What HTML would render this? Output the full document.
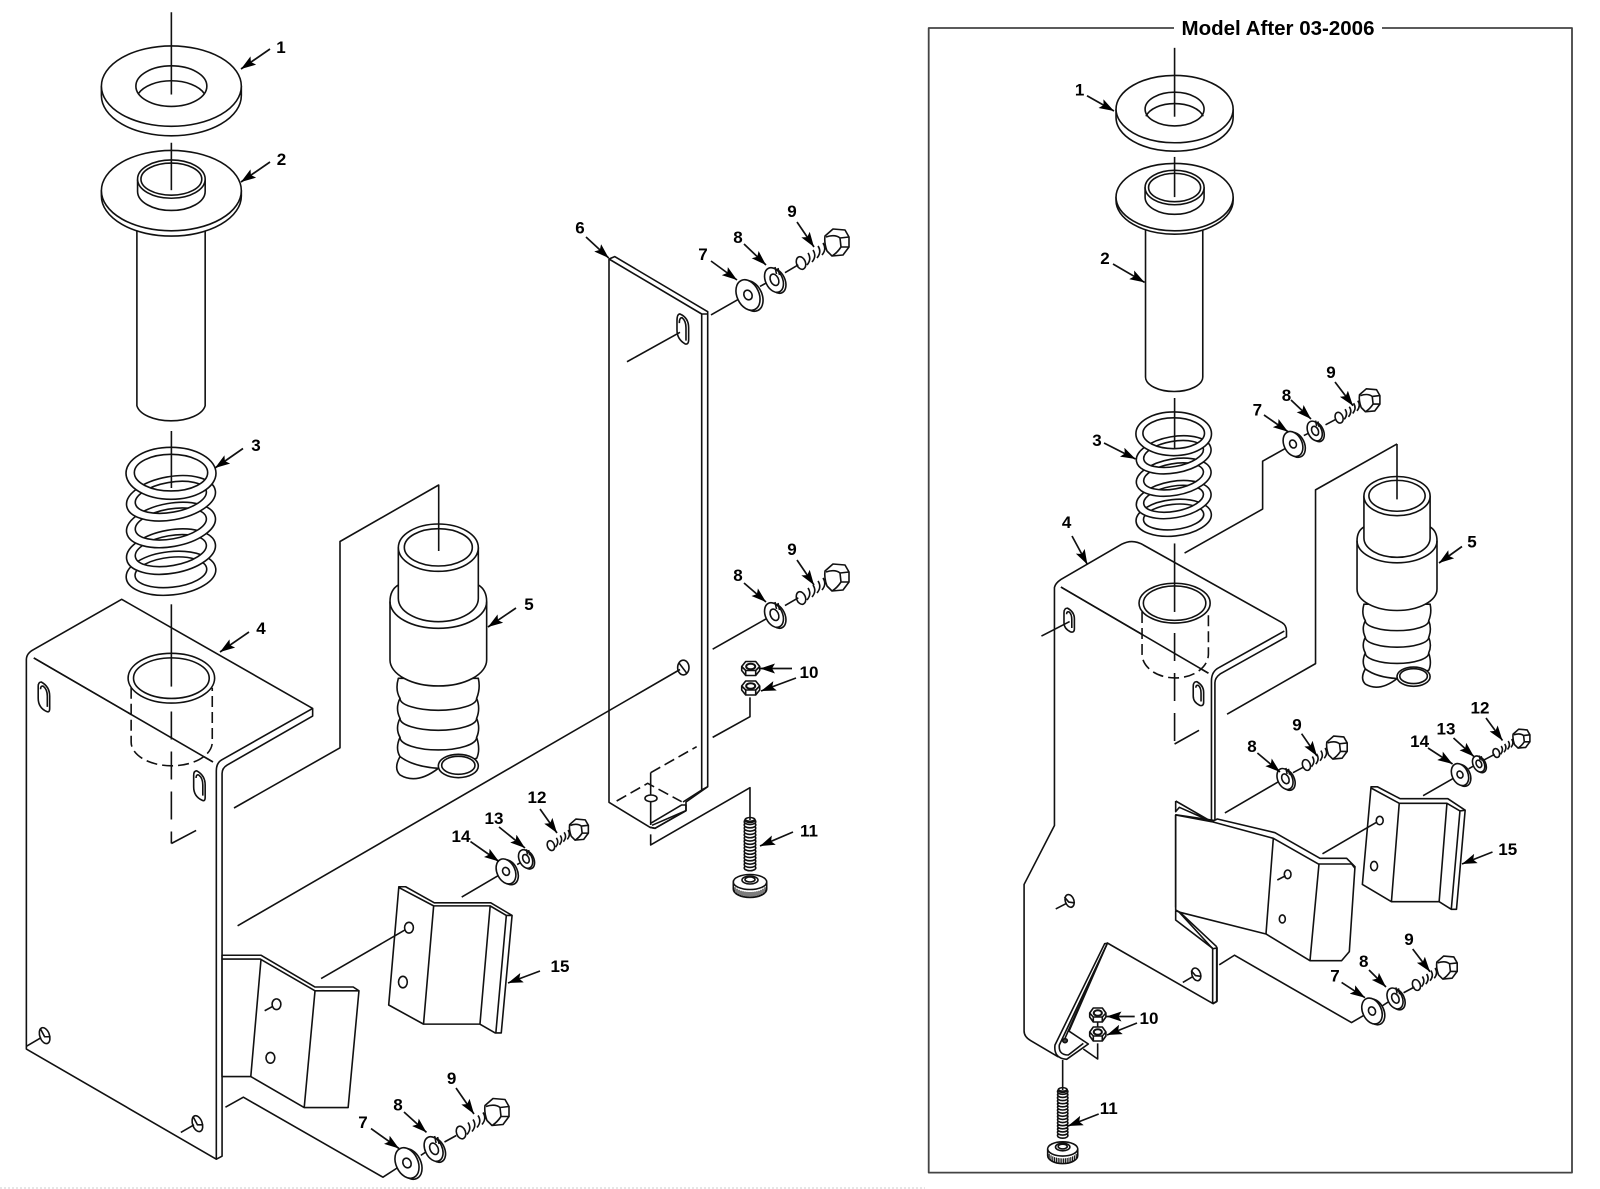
<!DOCTYPE html>
<html><head><meta charset="utf-8"><style>
html,body{margin:0;padding:0;background:#fff;width:1600px;height:1189px;overflow:hidden}
svg{display:block}
.d *,defs *{vector-effect:non-scaling-stroke}
.d{fill:none;stroke:#111;stroke-width:1.6;stroke-linejoin:round}
.w{fill:#fff}
.dash{stroke-dasharray:11 5}
.ar path{marker-end:url(#a);stroke-width:1.7}
text{font-family:"Liberation Sans",sans-serif;font-weight:bold;fill:#000;stroke:none;font-size:17px;text-anchor:middle}
</style></head><body>
<svg width="1600" height="1189" viewBox="0 0 1600 1189" xmlns="http://www.w3.org/2000/svg">
<defs>
<marker id="a" markerUnits="userSpaceOnUse" viewBox="0 0 15 10" markerWidth="15" markerHeight="10" refX="15" refY="5" orient="auto"><path d="M0,0L15,5L0,10L3,5Z" fill="#000" stroke="none"/></marker>
<path id="ring" class="w" fill-rule="evenodd" d="M-135,0a135,65 0 1,0 270,0a135,65 0 1,0 -270,0ZM-108,-3a108,45 0 1,0 216,0a108,45 0 1,0 -216,0Z"/>
<g id="spring">
<use href="#ring" transform="translate(0 300) rotate(-6)"/>
<use href="#ring" transform="translate(0 235) rotate(-10)"/>
<use href="#ring" transform="translate(0 155) rotate(-10)"/>
<use href="#ring" transform="translate(0 75) rotate(-10)"/>
<path class="w" fill-rule="evenodd" d="M-135,0a135,78 0 1,0 270,0a135,78 0 1,0 -270,0ZM-110,-2a110,55 0 1,0 220,0a110,55 0 1,0 -220,0Z"/>
</g>
<g id="washer">
<ellipse class="w" cx="3" cy="1" rx="11" ry="16" transform="rotate(-25 3 1)"/>
<ellipse class="w" cx="0" cy="0" rx="11" ry="16" transform="rotate(-25)"/>
<ellipse cx="0" cy="0" rx="4" ry="5" transform="rotate(-25)"/>
</g>
<g id="lock">
<ellipse class="w" cx="2.500" cy="1" rx="8.500" ry="13" transform="rotate(-25 2.500 1)"/>
<ellipse class="w" cx="0" cy="0" rx="8.500" ry="13" transform="rotate(-25)"/>
<ellipse cx="0.500" cy="0" rx="4" ry="6" transform="rotate(-25)"/>
<path d="M1,-13L2.500,-6M4,-12L5.500,-5"/>
</g>
<g id="bolt">
<ellipse cx="-36" cy="20" rx="4.500" ry="6.500" transform="rotate(-20 -36 20)"/>
<path d="M-29,10q4,6 -1,12M-24,7q4,6 -1,12M-19,3q4,6 -1,12M-14,0q4,6 -1,12M-9,-3q5,6 0,13"/>
<path class="w" d="M-12,-7L-4,-14L8,-13L12,-6L12,4L6,12L-5,13L-10,8Q-13,0 -12,-7Z"/>
<path d="M-11,-6Q-2,-9 3,-5L12,-6M3,-5L4,4Q0,10 -5,13M4,4L12,4"/>
</g>
<g id="nut">
<path class="w" d="M-9,-2L-5,-7H5L9,-2V2L5,7H-5L-9,2Z"/>
<path d="M-9,-2L-5,2H5L9,-2M-5,2V7M5,2V7"/>
<ellipse cx="0" cy="-2" rx="4.500" ry="2.800" stroke-width="2"/>
</g>
<g id="screw">
<ellipse cx="0" cy="0" rx="5" ry="2.500"/>
<path d="M-5,0q5,2.500 10,0q1.500,1.600 0,3.300m-10,-3.300q-1.500,1.600 0,3.300q5,2.500 10,0q1.500,1.600 0,3.300m-10,-3.300q-1.500,1.600 0,3.300q5,2.500 10,0q1.500,1.600 0,3.300m-10,-3.300q-1.500,1.600 0,3.300q5,2.500 10,0q1.500,1.600 0,3.300m-10,-3.300q-1.500,1.600 0,3.300q5,2.500 10,0q1.500,1.600 0,3.300m-10,-3.300q-1.500,1.600 0,3.300q5,2.500 10,0q1.500,1.600 0,3.300m-10,-3.300q-1.500,1.600 0,3.300q5,2.500 10,0q1.500,1.600 0,3.300m-10,-3.300q-1.500,1.600 0,3.300q5,2.500 10,0q1.500,1.600 0,3.300m-10,-3.300q-1.500,1.600 0,3.300q5,2.500 10,0q1.500,1.600 0,3.300m-10,-3.300q-1.500,1.600 0,3.300q5,2.500 10,0q1.500,1.600 0,3.300m-10,-3.300q-1.500,1.600 0,3.300q5,2.500 10,0q1.500,1.600 0,3.300m-10,-3.300q-1.500,1.600 0,3.300q5,2.500 10,0q1.500,1.600 0,3.300m-10,-3.300q-1.500,1.600 0,3.300q5,2.500 10,0q1.500,1.600 0,3.300m-10,-3.300q-1.500,1.600 0,3.300q5,2.500 10,0q1.500,1.600 0,3.300m-10,-3.300q-1.500,1.600 0,3.300q5,2.500 10,0q1.500,1.600 0,3.300m-10,-3.300q-1.500,1.600 0,3.300q5,2.500 10,0"/>
<path class="w" d="M-16.700,62V69A16.700,8.500 0 0 0 16.700,69V62Z"/>
<ellipse class="w" cx="0" cy="62" rx="16.700" ry="7.500"/>
<ellipse cx="0" cy="60" rx="8" ry="4"/>
<ellipse cx="0" cy="59.500" rx="5" ry="2.500"/>
<path stroke-width="1.100" d="M-15,67.200V72.700M-13,68.800V74.300M-11,69.900V75.400M-9,70.700V76.200M-7,71.200V76.700M-5,71.600V77.100M-3,71.900V77.400M-1,72V77.500M1,72V77.500M3,71.900V77.400M5,71.600V77.100M7,71.200V76.700M9,70.700V76.200M11,69.900V75.400M13,68.800V74.300M15,67.200V72.700"/>
</g>
<path id="slot" d="M113,255Q113,243 122,243Q147,255 147,280V312Q147,324 138,320Q113,310 113,285ZM120,262Q120,252 128,254Q140,262 140,280V308"/>
<path id="slotR" d="M332,62Q332,50 340,50Q356,60 356,78V104Q356,115 347,112Q332,104 332,88ZM338,66Q338,58 344,60Q350,66 350,80V102"/>
<g id="p5">
<path class="w" d="M85,475Q75,510 90,535Q75,565 90,595Q75,625 90,652Q75,685 90,710Q70,745 90,765Q140,795 205,745L320,715Q332,690 320,652Q332,625 320,595Q332,565 320,535Q332,505 325,475Z"/>
<path d="M90,535A115,36 0 0 0 320,535M90,595A115,36 0 0 0 320,595M90,652A115,38 0 0 0 320,652M90,710Q130,740 205,745"/>
<ellipse class="w" cx="265" cy="738" rx="60" ry="35"/>
<ellipse cx="265" cy="736" rx="50" ry="27"/>
<path class="w" d="M85,195Q60,210 60,245V420A145,78 0 0 0 350,420V245Q350,210 325,195Z"/>
<path d="M60,245A145,80 0 0 0 350,245"/>
<path class="w" d="M85,83V235A120,70 0 0 0 325,235V83Z"/>
<ellipse class="w" cx="205" cy="83" rx="120" ry="71"/>
<ellipse cx="205" cy="82" rx="102" ry="56"/>
</g>
</defs>

<g class="d">
<!-- LEFT upper -->
<g transform="scale(.338 .3827)">
<path d="M300,225V250A207,105 0 0 0 714,250V225"/>
<ellipse class="w" cx="507" cy="225" rx="207" ry="105"/>
<ellipse cx="507" cy="225" rx="105" ry="53"/>
<path d="M409,245A105,53 0 0 1 605,245"/>
<path d="M507,32V247"/>
<path d="M405,590V1060A102,46 0 0 0 607,1060V590"/>
<path class="w" d="M300,498V512A207,105 0 0 0 714,512V498Z"/>
<ellipse class="w" cx="507" cy="498" rx="207" ry="105"/>
<path class="w" d="M407,470V500A100,50 0 0 0 607,500V470Z"/>
<ellipse class="w" cx="507" cy="468" rx="100" ry="50"/>
<ellipse cx="507" cy="468" rx="90" ry="42"/>
<path d="M507,373V497"/>
</g>
<use href="#spring" transform="translate(171 473.300) scale(.3333)"/>
<path d="M171.400,431V488"/>

<!-- LEFT lower -->
<g transform="translate(0 589) scale(.338 .3827)">
<path class="w" d="M360,27L925,312V332L672,460Q657,468 657,482V1482L640,1490L78,1202V185Q78,168 100,158Z"/>
<path d="M925,312L655,447Q640,455 640,475V1490M100,180L630,452"/>
<use href="#slot"/>
<use href="#slot" x="460" y="232"/>
<path class="w" d="M388,240H628V400A120,63 0 0 1 388,400Z" stroke="none"/>
<path class="dash" d="M388,258V400A120,62 0 0 0 628,400V258"/>
<path d="M100,180L630,452"/>
<ellipse class="w" cx="507" cy="233" rx="128" ry="65"/>
<ellipse cx="507" cy="233" rx="112" ry="53"/>
<path d="M507,40V255"/>
<path d="M507,320V665" stroke-dasharray="28 12"/>
<path d="M507,665L608,618" stroke-dasharray="28 14"/>
<ellipse cx="132" cy="1167" rx="14" ry="22" transform="rotate(-25 132 1167)"/>
<path d="M78,1195L122,1172M120,1150L132,1170L148,1170"/>
<ellipse cx="584" cy="1397" rx="14" ry="22" transform="rotate(-25 584 1397)"/>
<path d="M535,1420L574,1400M572,1380L584,1400L600,1400"/>
<!-- tab -->
<path class="w" d="M657,957H772L932,1040H1045L1062,1050L1030,1355H900L742,1274H657Z"/>
<path d="M657,967H770L932,1050H1062M772,970L742,1274M932,1050L900,1355"/>
<ellipse cx="818" cy="1085" rx="13" ry="14"/><ellipse cx="800" cy="1225" rx="13" ry="14"/>
<path d="M783,1102L808,1090"/>
<path d="M667,1354L720,1328L1133,1537L1180,1510M1245,1480L1270,1465M1315,1445L1350,1428"/>
<!-- plate 15 -->
<path class="w" d="M1180,778H1200L1285,820H1452L1515,853L1483,1160H1465L1420,1137H1253L1150,1087Z"/>
<path d="M1180,780L1283,828H1450L1498,853L1515,853M1283,828L1253,1137M1450,830L1420,1137M1498,853L1467,1160"/>
<ellipse cx="1210" cy="885" rx="13" ry="14"/><ellipse cx="1192" cy="1027" rx="13" ry="15"/>
<path d="M950,1018L1200,890"/>
<path d="M1366,805L1495,738M1530,720L1550,710"/>
</g>
<use href="#p5" transform="translate(370 520) scale(.3333)"/>
<path d="M438.700,551V485L340,541.500V747.800L234,808"/>

<!-- bracket 6 -->
<path class="w" d="M609,259L614.700,256.600L707.700,311.700V786.700L686,802V810.700L655,828.300L650,827.300L609,802.300Z"/>
<path d="M609,259L701.700,314H707.700M701.700,314V790L707.700,786.700M701.700,790L683,802"/>
<g transform="translate(600 740) scale(.3333)">
<path class="dash" d="M50,183L143,130L245,185"/>
<path class="dash" d="M152,98L290,20"/>
<ellipse cx="153" cy="175" rx="18" ry="10"/>
<path d="M152,98V165M152,185V255"/>
<path d="M152,250L245,195H258V212L165,265L150,262"/>
<path d="M156,256L258,212"/>
<path d="M152,283V315L450,143V240"/>
</g>
<g transform="translate(530 190) scale(.3333 .4592)">
<path d="M660,1105V1147L548,1192"/>
<path d="M441,285Q441,270 450,270Q476,278 476,300V325Q476,338 465,335Q441,325 441,305ZM448,290Q448,278 456,278Q468,285 468,300V328"/>
<path d="M291,374L450,310"/>
<ellipse cx="460" cy="1040" rx="17" ry="16"/>
<path d="M447,1030L470,1052"/>
<path d="M543,272L645,230M690,210L720,198M765,180L805,163"/>
<path d="M548,1000L730,925M765,905L805,888"/>
</g>
<path d="M237.600,925.800L680,669.500"/>

<!-- fasteners left -->
<use href="#washer" x="748" y="295"/>
<use href="#lock" x="774" y="280"/>
<use href="#bolt" x="837" y="243"/>
<use href="#lock" x="774" y="615"/>
<use href="#bolt" x="837" y="578"/>
<use href="#nut" x="750.700" y="668.500"/>
<use href="#nut" x="750.700" y="688"/>
<use href="#screw" x="750" y="820"/>
<use href="#washer" x="407" y="1163"/>
<use href="#lock" x="433.600" y="1149"/>
<use href="#bolt" x="497" y="1112.500"/>
<use href="#washer" transform="translate(506 871.400) scale(.82)"/>
<use href="#lock" transform="translate(525.600 859) scale(.75)"/>
<use href="#bolt" transform="translate(579 830) scale(.78)"/>

<!-- RIGHT upper -->
<rect x="928.700" y="28" width="643.300" height="1144.600" stroke="#444" stroke-width="1.800" fill="none"/>
<rect x="1174" y="18" width="208" height="20" fill="#fff" stroke="none"/>
<g transform="translate(920 0) scale(.4337 .3827)">
<path d="M452,285V307A135,88 0 0 0 722,307V285"/>
<ellipse class="w" cx="587" cy="285" rx="135" ry="88"/>
<ellipse cx="587" cy="285" rx="68" ry="44"/>
<path d="M521,304A68,44 0 0 1 653,304"/>
<path d="M587,125V305"/>
<path d="M520,590V985A66,38 0 0 0 652,985V590"/>
<path class="w" d="M452,515V524A135,88 0 0 0 722,524V515Z"/>
<ellipse class="w" cx="587" cy="515" rx="135" ry="88"/>
<path class="w" d="M519,490V515A68,45 0 0 0 655,515V490Z"/>
<ellipse class="w" cx="587" cy="490" rx="68" ry="45"/>
<ellipse cx="587" cy="490" rx="60" ry="37"/>
<path d="M587,410V515"/>
</g>
<use href="#spring" transform="translate(1173.700 433.800) scale(.28)"/>
<path d="M1174.600,398V448"/>

<!-- RIGHT lower -->
<g transform="translate(920 589) scale(.4337 .3827)">
<path class="w" d="M465,-117Q490,-132 515,-115L835,88Q845,95 845,110V125L692,222Q680,232 680,245V605L590,590V835L675,940L685,938V1077L675,1083L432,925L318,1222L255,1180Q240,1170 240,1155V772L310,618V-4Q312,-15 325,-25Z"/>
<path d="M840,110L690,205Q672,215 672,240V605"/>
<path d="M325,-5L665,220"/>
<use href="#slotR"/>
<use href="#slotR" x="298" y="192"/>
<path d="M280,123L345,85"/>
<path class="w" stroke="none" d="M512,40H665V170A76,60 0 0 1 512,170Z"/>
<path class="dash" d="M512,60V170A76,62 0 0 0 665,170V60"/>
<path d="M325,-5L665,220"/>
<ellipse class="w" cx="587" cy="37" rx="82" ry="52"/>
<ellipse cx="587" cy="37" rx="72" ry="45"/>
<path d="M587,-119V60"/>
<path d="M587,115V405" stroke-dasharray="28 12"/>
<path d="M587,405L655,362" stroke-dasharray="28 14"/>
<ellipse cx="345" cy="815" rx="10" ry="17" transform="rotate(-15 345 815)"/>
<path d="M313,836L337,822M333,805L343,818L355,820"/>
<ellipse cx="637" cy="1007" rx="10" ry="17" transform="rotate(-15 637 1007)"/>
<path d="M606,1028L630,1012M625,997L635,1010L647,1012"/>
<!-- connectors -->
<path d="M703,585L835,498M860,480L885,465"/>
<path d="M1160,540L1245,485M1265,470L1280,460M1300,447L1325,432"/>
<path d="M690,982L725,957L995,1133L1040,1103M1065,1090L1085,1075M1115,1055L1140,1040"/>
<!-- plate 15 -->
<path class="w" d="M1040,517H1055L1107,548H1217L1257,578L1237,837H1225L1197,817H1087L1020,772Z"/>
<path d="M1040,520L1105,560H1215L1245,580L1257,578M1105,560L1087,817M1215,560L1197,817M1245,580L1225,837"/>
<ellipse cx="1060" cy="605" rx="8" ry="11"/><ellipse cx="1047" cy="724" rx="8" ry="12"/>
<path d="M928,692L1052,610"/>
<path d="M1100,-379L912,-259V195L708,327"/>
<path d="M610,-94L790,-209V-334L845,-369"/>
<path d="M885,-401L905,-412M935,-429L960,-444"/>
</g>
<use href="#p5" transform="translate(1340.500 473.200) scale(.2757)"/>
<path d="M1397,444V499.400"/>

<!-- right tab (crop coordinates) -->
<g transform="translate(1140 770) scale(.3333)">
<path class="w" d="M232,147L405,188L540,265H620L645,290L628,545L605,572H510L378,492L120,427L107,420V135L215,155Z"/>
<path d="M215,155L400,205L535,282H635L645,295M400,205L378,492M537,282L510,572"/>
<path d="M107,93V125L118,112L215,155M107,93L215,155M107,125L118,112"/>
<path d="M107,135V412"/>
<path d="M107,422V450L218,535M107,422L120,427L230,530M218,535V702M230,530V695L218,702"/>
<ellipse class="w" cx="443" cy="313" rx="10" ry="13"/><ellipse cx="427" cy="447" rx="9" ry="12"/>
<path d="M412,330L437,317"/>
</g>
<!-- hook (crop coordinates) -->
<g transform="translate(1020 990) scale(.3333)">
<path class="w" d="M254,-139L105,165Q100,205 140,208L205,162L145,122L262,-140Z"/>
<path d="M262,-140L118,165Q115,195 145,195L190,160M145,122L135,145"/>
<ellipse cx="135" cy="152" rx="7" ry="6" fill="#444"/>
<path d="M233,88V118M233,160V207L190,177"/>
<path d="M128,210V300"/>
</g>

<!-- fasteners right -->
<use href="#washer" transform="translate(1293 444) scale(.82)"/>
<use href="#lock" transform="translate(1314.700 431) scale(.8)"/>
<use href="#bolt" transform="translate(1369.700 400.700) scale(.85)"/>
<use href="#lock" transform="translate(1285 779) scale(.85)"/>
<use href="#bolt" transform="translate(1337 748) scale(.85)"/>
<use href="#washer" transform="translate(1460 774.600) scale(.72)"/>
<use href="#lock" transform="translate(1478.600 764) scale(.65)"/>
<use href="#bolt" transform="translate(1521.500 739) scale(.7)"/>
<use href="#washer" transform="translate(1372 1011) scale(.85)"/>
<use href="#lock" transform="translate(1395 998.500) scale(.85)"/>
<use href="#bolt" transform="translate(1447 968) scale(.85)"/>
<use href="#nut" transform="translate(1097.800 1015) scale(.9 1)"/>
<use href="#nut" transform="translate(1097.800 1034) scale(.9 1)"/>
<use href="#screw" transform="translate(1062.700 1090) scale(.9 .95)"/>

<!-- arrows -->
<g class="ar">
<path d="M270,49L241,69"/><path d="M270,162L241,182"/><path d="M243,448.500L215,468"/><path d="M249,632L220,652"/><path d="M516,608L488,627"/>
<path d="M499,827L525,848"/><path d="M470.500,841.600L499,861.500"/><path d="M540,971L508,983"/>
<path d="M371,1128.600L399,1148.500"/><path d="M404,1112L426.500,1132.400"/><path d="M456,1088L474,1114"/><path d="M540,809L557,833"/>
<path d="M586,237L608.700,258"/><path d="M711,261L737,280"/><path d="M744,244L766,265"/><path d="M797,222L814,247"/>
<path d="M744,583L766,602"/><path d="M797,560L814,585"/><path d="M792,668.500L760,668.500"/><path d="M796,678L761,691"/><path d="M793,832L760,846"/>
<path d="M1087,95.700L1114,111"/><path d="M1113,264L1144.600,282.400"/><path d="M1104,443L1135.500,459"/><path d="M1072,536L1087.400,564.500"/><path d="M1462,546.500L1439,563"/>
<path d="M1264,415L1288,431.700"/><path d="M1291,400L1311,419"/><path d="M1335,382L1353,405.700"/>
<path d="M1257.400,753L1280,772"/><path d="M1301.600,733.700L1317,756"/><path d="M1486,718L1502.500,740.500"/><path d="M1453.500,738L1474,756.600"/><path d="M1428,748L1452.600,764"/><path d="M1492.500,852L1462,864"/>
<path d="M1412.700,949L1430,971.700"/><path d="M1369,970L1386,987"/><path d="M1341.600,982.400L1365,997.700"/>
<path d="M1134.700,1016.500L1106.500,1016.500"/><path d="M1137,1023L1107,1035"/><path d="M1098.700,1114L1068,1126"/>
</g>

<path d="M0,1188H925" stroke="#ccc" stroke-width="1" stroke-dasharray="2 2"/>
</g>

<!-- labels -->
<text x="281" y="53">1</text><text x="281.500" y="165">2</text><text x="256" y="451">3</text><text x="261" y="634">4</text><text x="529" y="610">5</text>
<text x="580" y="233.500">6</text><text x="703" y="260">7</text><text x="738" y="243">8</text><text x="792" y="217">9</text>
<text x="738" y="581">8</text><text x="792" y="555">9</text><text x="809" y="678">10</text><text x="809" y="836.500">11</text>
<text x="537" y="803">12</text><text x="494" y="824">13</text><text x="461" y="842">14</text><text x="560" y="972">15</text>
<text x="363" y="1128">7</text><text x="398" y="1110.500">8</text><text x="451.600" y="1084">9</text>
<text x="1278" y="35" style="font-size:20px" textLength="193" lengthAdjust="spacingAndGlyphs">Model After 03-2006</text>
<text x="1079.600" y="95.500">1</text><text x="1105" y="264">2</text><text x="1097" y="446">3</text><text x="1066.600" y="528">4</text><text x="1472" y="547.500">5</text>
<text x="1257.400" y="415.500">7</text><text x="1286.500" y="401">8</text><text x="1331" y="378">9</text>
<text x="1252" y="752">8</text><text x="1297" y="730.500">9</text><text x="1480" y="713.600">12</text><text x="1446" y="734.700">13</text><text x="1419.600" y="747">14</text><text x="1507.700" y="855">15</text>
<text x="1409" y="945">9</text><text x="1363.700" y="967">8</text><text x="1335" y="981.500">7</text><text x="1149" y="1024">10</text><text x="1108.700" y="1114">11</text>
</svg>
</body></html>
